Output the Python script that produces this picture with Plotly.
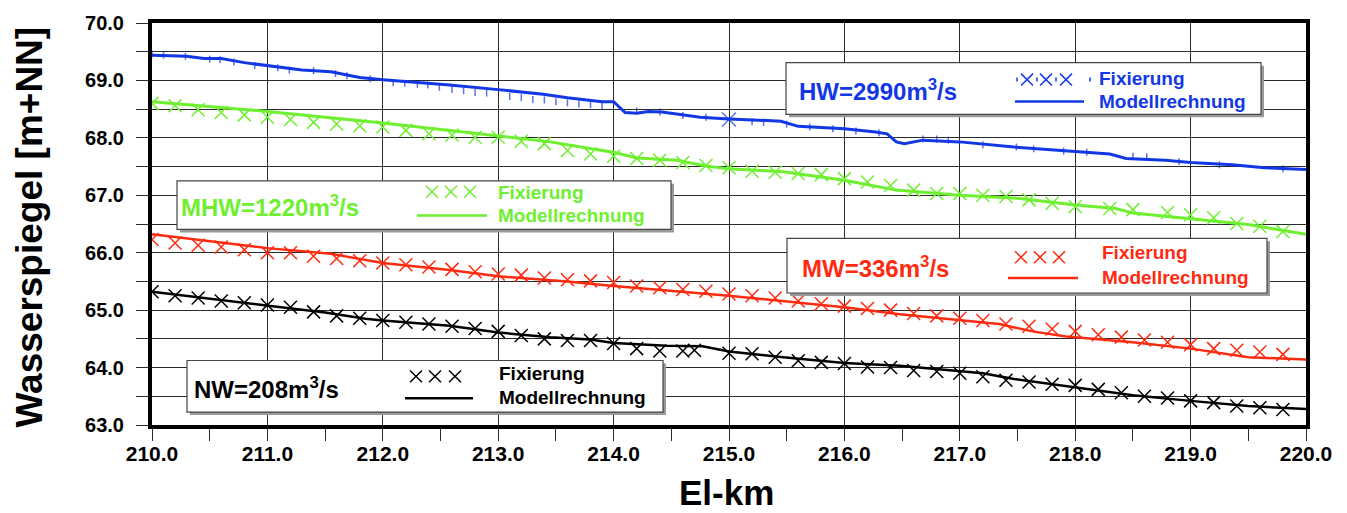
import plotly.graph_objects as go

# ---------------- data ----------------
# NW = 208 m3/s
nw_fix_km = [210.0,210.2,210.4,210.6,210.8,211.0,211.2,211.4,211.6,211.8,212.0,212.2,212.4,212.6,212.8,
             213.0,213.2,213.4,213.6,213.8,214.0,214.2,214.4,214.6,214.7,215.0,215.2,215.4,215.6,215.8,
             216.0,216.2,216.4,216.6,216.8,217.0,217.2,217.4,217.6,217.8,218.0,218.2,218.4,218.6,218.8,
             219.0,219.2,219.4,219.6,219.8]
nw_fix_val = [65.32,65.25,65.21,65.16,65.13,65.09,65.05,64.97,64.90,64.86,64.82,64.79,64.76,64.72,64.68,
              64.63,64.56,64.50,64.47,64.47,64.42,64.33,64.29,64.29,64.30,64.25,64.24,64.18,64.12,64.09,
              64.07,64.01,64.00,63.95,63.93,63.90,63.84,63.78,63.75,63.71,63.69,63.62,63.56,63.50,63.47,
              63.42,63.39,63.33,63.30,63.27]
nw_mod_km = [210.0,210.5,211.0,211.5,211.85,212.0,212.58,213.0,213.45,213.8,214.0,214.46,214.77,215.0,
             215.47,216.0,216.48,217.0,217.2,217.47,218.0,218.5,219.0,219.5,220.0]
nw_mod_val = [65.32,65.20,65.08,64.96,64.85,64.82,64.73,64.61,64.53,64.49,64.43,64.38,64.37,64.28,
              64.18,64.08,64.03,63.94,63.90,63.80,63.66,63.52,63.42,63.33,63.28]

# MW = 336 m3/s
mw_fix_km = [210.0,210.2,210.4,210.6,210.8,211.0,211.2,211.4,211.6,211.8,212.0,212.2,212.4,212.6,212.8,
             213.0,213.2,213.4,213.6,213.8,214.0,214.2,214.4,214.6,214.8,215.0,215.2,215.4,215.6,215.8,
             216.0,216.2,216.4,216.6,216.8,217.0,217.2,217.4,217.6,217.8,218.0,218.2,218.4,218.6,218.8,
             219.0,219.2,219.4,219.6,219.8]
mw_fix_val = [66.23,66.17,66.13,66.10,66.05,66.00,66.00,65.94,65.90,65.86,65.82,65.79,65.75,65.71,65.67,
              65.63,65.61,65.56,65.53,65.51,65.48,65.42,65.39,65.36,65.33,65.28,65.25,65.21,65.16,65.11,
              65.07,65.03,65.00,64.94,64.90,64.86,64.82,64.76,64.72,64.67,64.63,64.57,64.53,64.48,64.44,
              64.40,64.33,64.30,64.27,64.23]
mw_mod_km = [210.0,211.0,211.55,211.86,212.0,212.58,213.0,213.6,214.0,215.0,215.47,216.0,216.48,217.0,
             217.34,217.63,217.92,218.0,218.5,219.0,219.5,220.0]
mw_mod_val = [66.32,66.08,65.98,65.87,65.82,65.70,65.59,65.50,65.42,65.25,65.15,65.05,64.93,64.82,
              64.76,64.63,64.54,64.53,64.44,64.33,64.18,64.14]

# MHW = 1220 m3/s
mhw_fix_km = [210.0,210.2,210.4,210.6,210.8,211.0,211.2,211.4,211.6,211.8,212.0,212.2,212.4,212.6,212.8,
              213.0,213.2,213.4,213.6,213.8,214.0,214.2,214.4,214.6,214.8,215.0,215.2,215.4,215.6,215.8,
              216.0,216.2,216.4,216.6,216.8,217.0,217.2,217.4,217.6,217.8,218.0,218.3,218.5,218.8,
              219.0,219.2,219.4,219.6,219.8]
mhw_fix_val = [68.60,68.56,68.49,68.44,68.40,68.36,68.32,68.27,68.24,68.21,68.19,68.13,68.07,68.05,68.01,
               68.01,67.94,67.90,67.78,67.72,67.68,67.64,67.61,67.57,67.52,67.48,67.42,67.40,67.38,67.36,
               67.29,67.23,67.17,67.09,67.03,67.03,67.00,66.98,66.92,66.86,66.80,66.77,66.75,66.70,
               66.66,66.61,66.51,66.46,66.37]
mhw_mod_km = [210.0,211.0,212.0,212.58,213.0,213.45,213.9,214.0,214.2,214.55,214.8,215.0,215.47,216.0,
              216.45,217.0,217.5,218.0,218.35,218.5,219.0,219.5,220.0]
mhw_mod_val = [68.63,68.46,68.26,68.13,68.04,67.93,67.78,67.75,67.65,67.61,67.51,67.46,67.41,67.26,
               67.09,67.00,66.95,66.83,66.77,66.69,66.59,66.49,66.32]

# HW = 2990 m3/s
hw_fix_km = [210.0,210.1,210.29,210.5,210.59,210.71,210.89,211.09,211.19,211.4,211.59,211.69,211.89,
             212.09,212.19,212.3,212.39,212.49,212.6,212.7,212.8,212.9,213.1,213.2,213.3,213.4,213.5,
             213.6,213.7,213.8,213.9,214.2,214.4,214.6,214.8,215.0,215.2,215.3,215.5,215.7,215.9,216.1,
             216.3,216.68,216.8,216.9,217.2,217.49,217.64,217.9,218.1,218.5,218.62,218.9,219.25,219.8]
hw_fix_val = [69.46,69.44,69.42,69.37,69.36,69.32,69.26,69.22,69.18,69.17,69.12,69.08,69.03,
              68.96,68.95,68.93,68.92,68.88,68.84,68.82,68.79,68.78,68.72,68.70,68.67,68.66,68.63,
              68.61,68.59,68.58,68.56,68.47,68.45,68.39,68.36,68.32,68.28,68.27,68.24,68.19,68.16,68.12,
              68.09,67.98,67.98,67.96,67.88,67.84,67.81,67.77,67.75,67.68,67.67,67.59,67.53,67.46]
hw_mod_km = [210.0,210.3,210.45,210.6,210.8,211.0,211.3,211.55,211.8,212.0,212.3,212.58,213.0,213.39,
             213.6,213.9,214.0,214.1,214.2,214.3,214.42,214.75,215.0,215.3,215.45,215.6,216.0,216.27,
             216.37,216.45,216.52,216.68,217.0,217.47,218.0,218.3,218.44,218.78,219.0,219.36,219.64,220.0]
hw_mod_val = [69.44,69.42,69.38,69.38,69.31,69.26,69.18,69.15,69.05,69.01,68.97,68.92,68.84,68.76,
              68.70,68.63,68.63,68.44,68.43,68.46,68.45,68.36,68.33,68.30,68.29,68.20,68.16,68.10,
              68.07,67.93,67.90,67.96,67.93,67.84,67.77,67.72,67.64,67.61,67.57,67.53,67.48,67.45]

x_ticks = [210, 211, 212, 213, 214, 215, 216, 217, 218, 219, 220]
y_ticks = [63, 64, 65, 66, 67, 68, 69, 70]

# ---------------- style ----------------
BLUE = "#1238e6"
GREEN = "#6ef030"
RED = "#ff2a10"
BLACK = "#000000"
FONT = "Liberation Sans, Arial, sans-serif"

W, H = 1347, 513
L, R, T, B = 152, 41, 20, 88
PW, PH = W - L - R, H - T - B


def px(x):
    return (x - L) / PW


def py(y):
    return (H - B - y) / PH


fig = go.Figure()

series = [
    (nw_fix_km, nw_fix_val, nw_mod_km, nw_mod_val, BLACK, 2.5),
    (mw_fix_km, mw_fix_val, mw_mod_km, mw_mod_val, RED, 2.5),
    (mhw_fix_km, mhw_fix_val, mhw_mod_km, mhw_mod_val, GREEN, 3),
]
for fk, fv, mk, mv, col, lw in series:
    fig.add_trace(go.Scatter(x=mk, y=mv, mode="lines", line=dict(color=col, width=lw),
                             showlegend=False, hoverinfo="skip"))
    fig.add_trace(go.Scatter(x=fk, y=fv, mode="markers",
                             marker=dict(symbol="x-thin-open", size=13, color=col,
                                         line=dict(width=1.5, color=col)),
                             showlegend=False, hoverinfo="skip"))

# HW
fig.add_trace(go.Scatter(x=hw_mod_km, y=hw_mod_val, mode="lines", line=dict(color=BLUE, width=3),
                         showlegend=False, hoverinfo="skip"))
hw_sym = ["x-thin-open" if abs(k - 215.0) < 1e-6 else "line-ns-open" for k in hw_fix_km]
hw_size = [14 if abs(k - 215.0) < 1e-6 else 5 for k in hw_fix_km]
fig.add_trace(go.Scatter(x=hw_fix_km, y=hw_fix_val, mode="markers",
                         marker=dict(symbol=hw_sym, size=hw_size, color=BLUE,
                                     line=dict(width=1.5, color=BLUE)),
                         showlegend=False, hoverinfo="skip"))

# ---------------- legend boxes ----------------
boxes = [
    (786, 60, 1261, 112, BLUE, "HW=2990m<sup>3</sup>/s", 797, 87, [1027, 1046, 1066], 77, 1015, 1084, 99, 1097, 76, 99),
    (177, 179, 671, 228, GREEN, "MHW=1220m<sup>3</sup>/s", 179, 204, [432, 451, 470], 190, 417, 487, 214, 496, 191, 214),
    (787, 237, 1267, 292, RED, "MW=336m<sup>3</sup>/s", 800, 266, [1021, 1040, 1059], 256, 1008, 1078, 277, 1100, 251, 276),
    (187, 360, 663, 412, BLACK, "NW=208m<sup>3</sup>/s", 192, 388, [416, 435, 455], 376, 405, 473, 398, 497, 373, 397),
]

shapes = []
annotations = []
for (x0, y0, x1, y1, col, lab, lx, ly, xs, xsy, lx0, lx1, lly, tx, fy, my) in boxes:
    shapes.append(dict(type="rect", xref="paper", yref="paper", x0=px(x0 + 3), x1=px(x1 + 3),
                       y0=py(y1 + 3), y1=py(y0 + 3), fillcolor="#9a9a9a", line=dict(width=0), layer="above"))
    shapes.append(dict(type="rect", xref="paper", yref="paper", x0=px(x0), x1=px(x1),
                       y0=py(y1), y1=py(y0), fillcolor="white", line=dict(color="#444444", width=1.2),
                       layer="above"))
    shapes.append(dict(type="line", xref="paper", yref="paper", x0=px(lx0), x1=px(lx1),
                       y0=py(lly), y1=py(lly), line=dict(color=col, width=2.5), layer="above"))
    # legend sample crosses drawn as two short strokes each
    for cx in xs:
        for d in (1, -1):
            shapes.append(dict(type="line", xref="paper", yref="paper",
                               x0=px(cx - 6), x1=px(cx + 6), y0=py(xsy - 6 * d), y1=py(xsy + 6 * d),
                               line=dict(color=col, width=1.5), layer="above"))
    if col == BLUE:
        for dx in [1017, 1037, 1056, 1090]:
            shapes.append(dict(type="line", xref="paper", yref="paper",
                               x0=px(dx), x1=px(dx), y0=py(xsy - 2), y1=py(xsy + 2),
                               line=dict(color=col, width=1.5), layer="above"))
    annotations.append(dict(xref="paper", yref="paper", x=px(lx), y=py(ly), xanchor="left", yanchor="middle",
                            text="<b>" + lab + "</b>", showarrow=False,
                            font=dict(family=FONT, size=24, color=col)))
    annotations.append(dict(xref="paper", yref="paper", x=px(tx), y=py(fy), xanchor="left", yanchor="middle",
                            text="<b>Fixierung</b>", showarrow=False,
                            font=dict(family=FONT, size=19, color=col)))
    annotations.append(dict(xref="paper", yref="paper", x=px(tx), y=py(my), xanchor="left", yanchor="middle",
                            text="<b>Modellrechnung</b>", showarrow=False,
                            font=dict(family=FONT, size=19, color=col)))

# axis titles
annotations.append(dict(xref="paper", yref="paper", x=px(29), y=py(226), text="<b>Wasserspiegel [m+NN]</b>",
                        textangle=-90, showarrow=False, xanchor="center", yanchor="middle",
                        font=dict(family=FONT, size=37, color="black")))
annotations.append(dict(xref="paper", yref="paper", x=px(726), y=py(493), text="<b>El-km</b>",
                        showarrow=False, xanchor="center", yanchor="middle",
                        font=dict(family=FONT, size=35, color="black")))

GRID = "#2a2a2a"
fig.update_layout(
    width=W, height=H,
    margin=dict(l=L, r=R, t=T, b=B, pad=0),
    paper_bgcolor="white", plot_bgcolor="white",
    showlegend=False,
    shapes=shapes,
    annotations=annotations,
    xaxis=dict(range=[210, 220], tickvals=x_ticks, ticktext=[f"{v:.1f}" for v in x_ticks],
               showgrid=True, gridcolor=GRID, gridwidth=1.3,
               ticks="outside", ticklen=12, tickwidth=1.2, tickcolor=GRID,
               minor=dict(dtick=0.5, tick0=210, ticks="outside", ticklen=12, tickwidth=1.2,
                          tickcolor=GRID, showgrid=False),
               showline=True, linecolor="black", linewidth=4, mirror=True,
               zeroline=False, ticklabelstandoff=-5,
               tickfont=dict(family=FONT, size=21, color="black", weight="bold")),
    yaxis=dict(range=[63, 70], tickvals=y_ticks, ticktext=[f"{v:.1f}" for v in y_ticks],
               showgrid=True, gridcolor=GRID, gridwidth=1.3,
               ticks="outside", ticklen=12, tickwidth=1.2, tickcolor=GRID,
               minor=dict(dtick=0.5, tick0=63, ticks="outside", ticklen=12, tickwidth=1.2,
                          tickcolor=GRID, showgrid=True, gridcolor=GRID, gridwidth=1.3),
               showline=True, linecolor="black", linewidth=4, mirror=True,
               zeroline=False, ticklabelstandoff=8,
               tickfont=dict(family=FONT, size=20, color="black", weight="bold")),
)

fig.write_html("out.html")
